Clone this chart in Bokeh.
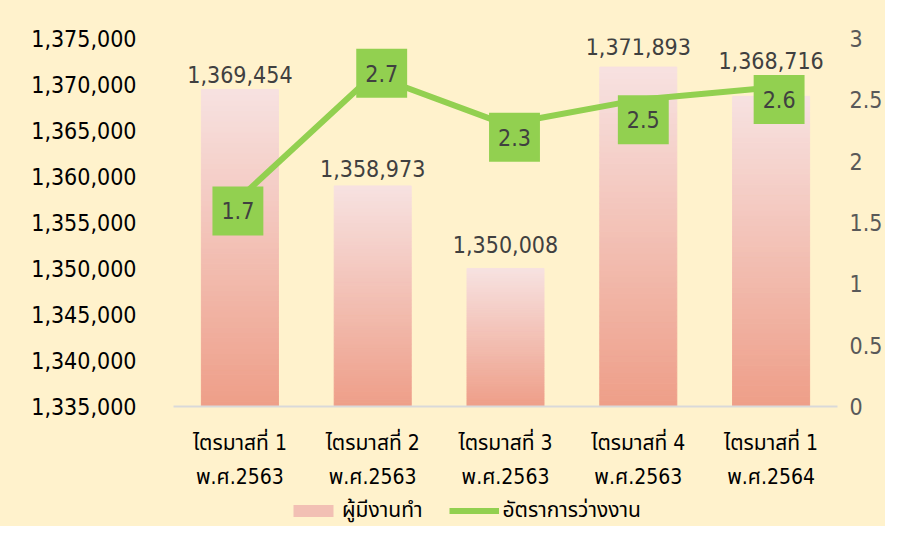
import numpy as np
from bokeh.plotting import figure
from bokeh.layouts import column
from bokeh.models import (ColumnDataSource, Range1d, LinearAxis, FixedTicker,
                          NumeralTickFormatter, Legend, LegendItem)
from bokeh.core.properties import value
from bokeh.embed import file_html
from bokeh.resources import INLINE

# ---- data ----
categories = ["ไตรมาสที่ 1\nพ.ศ.2563", "ไตรมาสที่ 2\nพ.ศ.2563", "ไตรมาสที่ 3\nพ.ศ.2563",
              "ไตรมาสที่ 4\nพ.ศ.2563", "ไตรมาสที่ 1\nพ.ศ.2564"]
employed = [1369454, 1358973, 1350008, 1371893, 1368716]
unemployment_rate = [1.7, 2.7, 2.3, 2.5, 2.6]
left_ticks = [1335000, 1340000, 1345000, 1350000, 1355000, 1360000, 1365000, 1370000, 1375000]
right_ticks = [0, 0.5, 1, 1.5, 2, 2.5, 3]
series_names = ["ผู้มีงานทำ", "อัตราการว่างงาน"]

# ---- styles ----
BG = "#FFF2CC"
GREEN = "#92D050"
NUM_FONT = "'DejaVu Sans Condensed', 'DejaVu Sans', 'Noto Sans Thai', sans-serif"
THAI_FONT = "'DejaVu Sans Condensed', 'Noto Sans Thai', 'Noto Sans', sans-serif"
label_dx = [-2, 9, 9, 5, 8]          # screen px offsets of rate labels
label_dy = [13, -2, 13, 20, 12]
bar_label_dy = [-7, -9, -15, -12, -27]  # screen px offsets of bar value labels

y0, y1 = left_ticks[0], left_ticks[-1]

p = figure(x_range=categories, y_range=Range1d(y0, y1), width=885, height=492,
           output_backend="svg", toolbar_location=None,
           min_border_left=173, min_border_right=47, min_border_top=38, min_border_bottom=85)
p.background_fill_color = BG
p.border_fill_color = BG
p.outline_line_color = None
p.xgrid.grid_line_color = None
p.ygrid.grid_line_color = None
p.extra_y_ranges = {"rate": Range1d(right_ticks[0], right_ticks[-1])}

# ---- gradient bars (vertical slices per bar) ----
top_c = np.array([0xF7, 0xE2, 0xE1], float)
bot_c = np.array([0xEE, 0x9E, 0x88], float)
N = 60
xs, bots, tops, cols = [], [], [], []
for cat, v in zip(categories, employed):
    edges = np.linspace(y0, v, N + 1)
    for i in range(N):
        t = (i + 0.5) / N
        c = bot_c + (top_c - bot_c) * t
        xs.append(cat)
        bots.append(edges[i])
        tops.append(edges[i + 1])
        cols.append("#%02x%02x%02x" % tuple(int(round(k)) for k in c))
bar_src = ColumnDataSource(dict(x=xs, bottom=bots, top=tops, color=cols))
bars = p.vbar(x="x", bottom="bottom", top="top", width=0.58, source=bar_src,
              fill_color="color", line_color="color", line_width=1)

# bar value labels
lab_src = ColumnDataSource(dict(x=categories, y=employed,
                                t=[f"{v:,}" for v in employed], dy=bar_label_dy))
p.text(x="x", y="y", text="t", source=lab_src, text_align="center",
       text_baseline="bottom", y_offset="dy", text_color="#404040",
       text_font=value(NUM_FONT), text_font_size="23px")

# ---- line ----
line_src = ColumnDataSource(dict(x=categories, y=unemployment_rate,
                                 t=[str(v) for v in unemployment_rate],
                                 dx=label_dx, dy=label_dy))
ln = p.line(x="x", y="y", source=line_src, y_range_name="rate",
            line_color=GREEN, line_width=6)
p.text(x="x", y="y", text="t", source=line_src, y_range_name="rate",
       x_offset="dx", y_offset="dy", text_align="center", text_baseline="middle",
       text_color="#404040", text_font=value(NUM_FONT), text_font_size="23px",
       background_fill_color=GREEN, padding=(9, 16))

# ---- axes ----
ax = p.yaxis[0]
ax.ticker = FixedTicker(ticks=left_ticks)
ax.formatter = NumeralTickFormatter(format="0,0")
ax.axis_line_color = None
ax.major_tick_line_color = None
ax.minor_tick_line_color = None
ax.major_tick_out = 0
ax.major_label_standoff = 37
ax.major_label_text_font = NUM_FONT
ax.major_label_text_font_size = "23px"
ax.major_label_text_color = "#000000"

rax = LinearAxis(y_range_name="rate", ticker=FixedTicker(ticks=right_ticks),
                 formatter=NumeralTickFormatter(format="0.[0]"))
rax.axis_line_color = None
rax.major_tick_line_color = None
rax.minor_tick_line_color = None
rax.major_tick_out = 0
rax.major_label_standoff = 12
rax.major_label_text_font = NUM_FONT
rax.major_label_text_font_size = "23px"
rax.major_label_text_color = "#595959"
p.add_layout(rax, "right")

xa = p.xaxis[0]
xa.axis_line_color = "#D9D9D9"
xa.axis_line_width = 2
xa.major_tick_line_color = None
xa.major_tick_out = 0
xa.major_label_standoff = 24
xa.major_label_text_font = THAI_FONT
xa.major_label_text_font_size = "21px"
xa.major_label_text_color = "#000000"
xa.major_label_text_line_height = 1.45

# ---- legend strip (separate figure below the chart) ----
lg = figure(width=885, height=34, output_backend="svg", toolbar_location=None,
            x_range=Range1d(0, 1), y_range=Range1d(0, 1),
            x_axis_location=None, y_axis_location=None,
            min_border_left=173, min_border_right=47, min_border_top=0, min_border_bottom=0)
lg.background_fill_color = BG
lg.border_fill_color = BG
lg.outline_line_color = None
lg.xgrid.grid_line_color = None
lg.ygrid.grid_line_color = None
# key glyphs: sources placed outside the visible range, only their legend swatches show
key_src = ColumnDataSource(dict(x=[-5, -4], y=[-5, -5]))
bar_key = lg.vbar(x="x", top="y", width=0.5, source=key_src,
                  fill_color="#F2C0B4", line_color=None)
line_key = lg.line(x="x", y="y", source=key_src, line_color=GREEN, line_width=6)
legend = Legend(items=[LegendItem(label=series_names[0], renderers=[bar_key]),
                       LegendItem(label=series_names[1], renderers=[line_key])],
                orientation="horizontal", location=(115, 0),
                background_fill_alpha=0, border_line_color=None,
                glyph_width=50, glyph_height=15, label_standoff=4, spacing=26,
                padding=0, margin=0,
                label_text_font=THAI_FONT, label_text_font_size="21px",
                label_text_color="#000000")
lg.add_layout(legend, "center")

layout = column(p, lg, spacing=0, styles={"background-color": BG})
open("out.html", "w").write(file_html(layout, INLINE))
